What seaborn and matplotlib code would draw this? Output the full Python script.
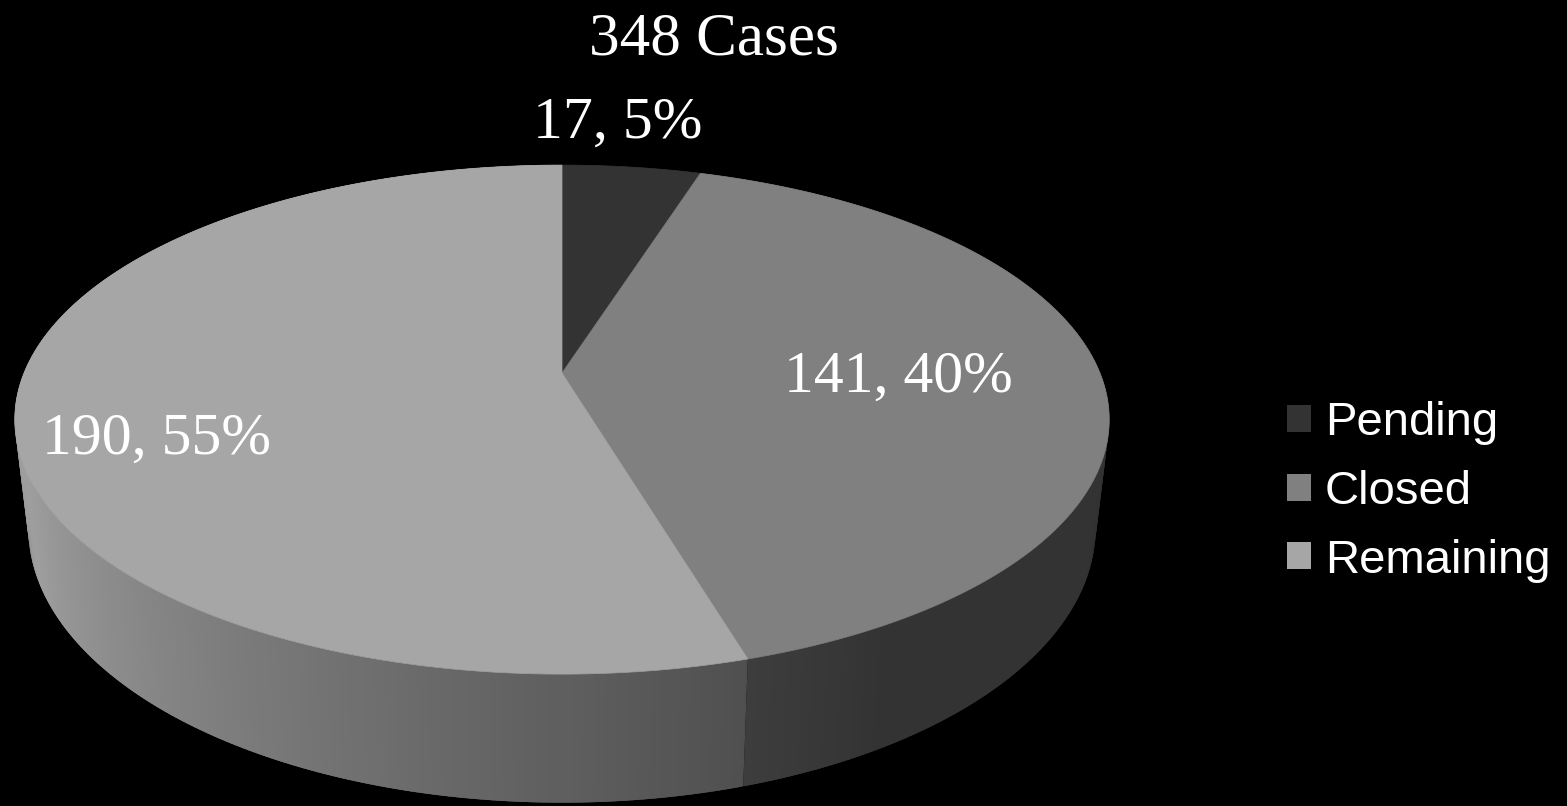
import numpy as np
import matplotlib
matplotlib.use("Agg")
import matplotlib.pyplot as plt
from matplotlib.patches import Polygon, Patch
import seaborn as sns

# ---------------- data ----------------
categories = ["Pending", "Closed", "Remaining"]
counts = [17, 141, 190]
percents = [5, 40, 55]
title_text = f"{sum(counts)} Cases"

# ---------------- style ----------------
sns.set_theme(style="white")
palette = sns.color_palette(["#333333", "#808080", "#a6a6a6"])
plt.rcParams["figure.facecolor"] = "black"
plt.rcParams["axes.facecolor"] = "black"
plt.rcParams["font.family"] = ["Liberation Sans", "DejaVu Sans"]

W, H = 1567, 806
fig = plt.figure(figsize=(W / 100, H / 100), dpi=100)

# let matplotlib's pie compute the slice angles from the data
tmp = fig.add_axes([0, 0, 0.01, 0.01])
wedges, _ = tmp.pie(counts, startangle=90, counterclock=False)
angles = [(w.theta1, w.theta2) for w in wedges]
tmp.remove()

ax = fig.add_axes([0, 0, 1, 1])
ax.set_xlim(0, W)
ax.set_ylim(H, 0)
ax.axis("off")

# perspective projection of the pie disc (layout / style parameters)
CX, CY = 562.0, 373.0
RX, RY = 538.0, 246.0
PERSP = 0.183
WALL = 105.0
BOTTOM_SHRINK = 0.975


def proj(phi_deg, drop=0.0, k=1.0):
    phi = np.radians(phi_deg)
    u = np.cos(phi)
    v = np.sin(phi)
    den = 1.0 + PERSP * v
    return CX + k * RX * u / den, CY - RY * v / den + drop / den


def shade(phi_deg):
    # clockwise angle from the top
    th = (90.0 - phi_deg) % 360.0
    return float(np.clip(0.40 + 0.0057 * (th - 150.0), 0.40, 0.95))


# side walls (drawn back to front, strips overlap slightly inside a slice)
strips = []
for (t1, t2), col in zip(angles, palette):
    lo, hi = min(t1, t2), max(t1, t2)
    n = max(4, int((hi - lo) / 0.5))
    ph = np.linspace(lo, hi, n + 1)
    step = ph[1] - ph[0]
    for a0, a1 in zip(ph[:-1], ph[1:]):
        b0 = max(lo, a0 - 0.6 * step)
        b1 = min(hi, a1 + 0.6 * step)
        arc = np.linspace(b0, b1, 4)
        xt, yt = proj(arc)
        xb, yb = proj(arc[::-1], drop=WALL, k=BOTTOM_SHRINK)
        pts = np.column_stack([np.r_[xt, xb], np.r_[yt, yb]])
        mid = 0.5 * (a0 + a1)
        c = tuple(np.clip(np.array(col) * shade(mid), 0, 1))
        strips.append((np.sin(np.radians(mid)), pts, c))
strips.sort(key=lambda t: -t[0])
for _, pts, c in strips:
    ax.add_patch(Polygon(pts, closed=True, facecolor=c, edgecolor="none",
                         linewidth=0, antialiased=True))

# top faces
for (t1, t2), col in zip(angles, palette):
    ph = np.linspace(t1, t2, 200)
    xs, ys = proj(ph)
    pts = [[CX, CY]] + list(zip(xs, ys))
    ax.add_patch(Polygon(pts, closed=True, facecolor=col, edgecolor=col,
                         linewidth=0.5, antialiased=True))

# labels
label_pos = [(618, 124), (898, 378), (157, 440)]
for cnt, pct, (lx, ly) in zip(counts, percents, label_pos):
    ax.text(lx, ly, f"{cnt}, {pct}%", ha="center", va="center",
            color="white", fontsize=43, family=["Liberation Serif", "DejaVu Serif"])

ax.text(714, 40, title_text, ha="center", va="center", color="white",
        fontsize=44, family=["Liberation Serif", "DejaVu Serif"])

# legend
handles = [Patch(facecolor=c, edgecolor="none") for c in palette]
leg = fig.legend(handles, categories, loc="center left",
                 bbox_to_anchor=(1287 / W, 1 - 492 / H),
                 frameon=False, fontsize=34, labelcolor="white",
                 handlelength=0.5, handleheight=0.5, handletextpad=0.3,
                 labelspacing=0.52, borderpad=0, borderaxespad=0)

fig.savefig("out.png", dpi=100, facecolor="black")
